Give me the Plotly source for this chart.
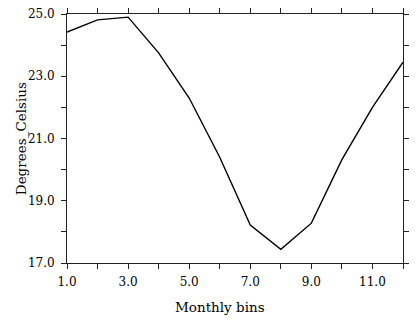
import plotly.graph_objects as go

months = [1, 2, 3, 4, 5, 6, 7, 8, 9, 10, 11, 12]
temps = [24.42, 24.81, 24.9, 23.75, 22.3, 20.4, 18.22, 17.44, 18.28, 20.32, 22.0, 23.45]

x_tickvals = [1, 2, 3, 4, 5, 6, 7, 8, 9, 10, 11, 12]
x_ticktext = ["1.0", "", "3.0", "", "5.0", "", "7.0", "", "9.0", "", "11.0", ""]
y_tickvals = [17, 18, 19, 20, 21, 22, 23, 24, 25]
y_ticktext = ["17.0", "", "19.0", "", "21.0", "", "23.0", "", "25.0"]

x_title = "Monthly bins"
y_title = "Degrees_Celsius"

font = dict(family="DejaVu Serif", size=12, color="black")
title_font = dict(family="DejaVu Serif", size=13.5, color="black")

fig = go.Figure(go.Scatter(x=months, y=temps, mode="lines",
                           line=dict(color="black", width=1.4)))

axis_common = dict(showline=True, linecolor="#222", linewidth=1, mirror="ticks",
                   ticks="outside", ticklen=5, tickcolor="#222", tickwidth=1,
                   showgrid=False, zeroline=False, tickmode="array",
                   tickfont=font)

fig.update_xaxes(range=[1, 12], tickvals=x_tickvals, ticktext=x_ticktext,
                 ticklabelstandoff=3, **axis_common)
fig.update_yaxes(range=[17, 25], tickvals=y_tickvals, ticktext=y_ticktext,
                 ticklabelstandoff=4, **axis_common)

W, H = 416, 322
fig.update_layout(width=W, height=H, margin=dict(l=67, r=8, t=7, b=59),
                  paper_bgcolor="white", plot_bgcolor="white", showlegend=False,
                  font=font)

fig.add_annotation(text=x_title, xref="paper", yref="paper",
                   x=(222 - 67) / (408 - 67), y=-(308 - 263) / (263 - 7),
                   showarrow=False, font=title_font, xanchor="center", yanchor="middle")
fig.add_annotation(text=y_title, xref="paper", yref="paper",
                   x=-(67 - 20) / (408 - 67), y=0.5, textangle=-90,
                   showarrow=False, font=title_font, xanchor="center", yanchor="middle")

fig.write_html("out.html")
